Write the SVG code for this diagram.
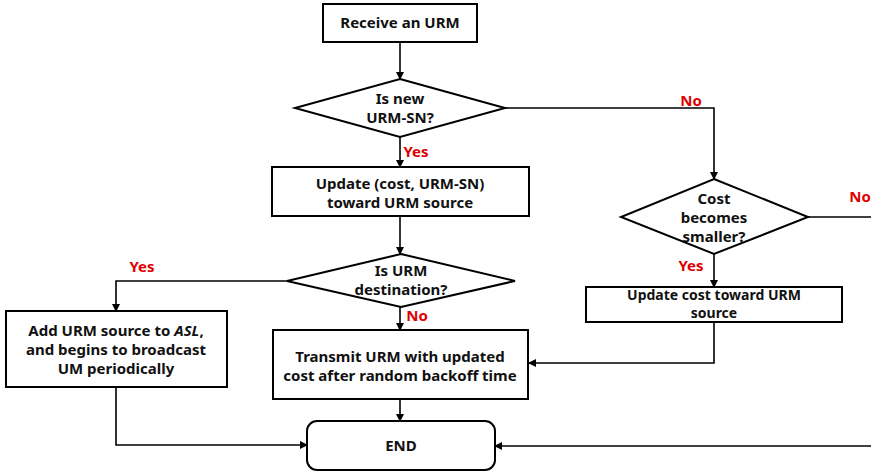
<svg xmlns="http://www.w3.org/2000/svg" width="871" height="473" viewBox="0 0 871 473">
<style>
.n{fill:#fff;stroke:#000;stroke-width:2}
.t{font-family:"Noto Sans","Liberation Sans",sans-serif;font-weight:bold;font-size:15px;fill:#111;text-anchor:middle}
.s{font-size:14px}
.l{font-family:"Noto Sans","Liberation Sans",sans-serif;font-weight:bold;font-size:15px;fill:#e00000;text-anchor:middle}
.c{fill:none;stroke:#000;stroke-width:1.6}
</style>
<defs>
<marker id="a" markerWidth="8" markerHeight="8" refX="7" refY="4" orient="auto" markerUnits="userSpaceOnUse">
<path d="M0,0 L8,4 L0,8 z" fill="#000"/>
</marker>
</defs>
<rect width="871" height="473" fill="#fff"/>
<g id="connectors">
<path class="c" d="M400,42 V79" marker-end="url(#a)"/>
<path class="c" d="M505,108 H714 V179" marker-end="url(#a)"/>
<path class="c" d="M400,137 V167" marker-end="url(#a)"/>
<path class="c" d="M400,216 V254" marker-end="url(#a)"/>
<path class="c" d="M287,281 H116 V311" marker-end="url(#a)"/>
<path class="c" d="M400,307 V330" marker-end="url(#a)"/>
<path class="c" d="M808,217 H871"/>
<path class="c" d="M714,254 V287" marker-end="url(#a)"/>
<path class="c" d="M714,322 V363 H529" marker-end="url(#a)"/>
<path class="c" d="M400,399 V421" marker-end="url(#a)"/>
<path class="c" d="M116,387 V445 H307" marker-end="url(#a)"/>
<path class="c" d="M871,446 H495" marker-end="url(#a)"/>
<text class="l" x="691" y="106">No</text>
<text class="l" x="860" y="202">No</text>
<text class="l" x="416" y="157">Yes</text>
<text class="l" x="691" y="271">Yes</text>
<text class="l" x="142" y="272">Yes</text>
<text class="l" x="417" y="321">No</text>
</g>
<g id="receive">
<rect class="n" x="323" y="4" width="154" height="38"/>
<text class="t" x="400" y="28">Receive an URM</text>
</g>
<g id="isnew">
<polygon class="n" points="400,79 505,108 400,137 295,108"/>
<text class="t" x="400" y="104">Is new</text>
<text class="t" x="400" y="123">URM-SN?</text>
</g>
<g id="update1">
<rect class="n" x="272" y="167" width="257" height="49"/>
<text class="t" x="400" y="189">Update (cost, URM-SN)</text>
<text class="t" x="400" y="208">toward URM source</text>
</g>
<g id="isdest">
<polygon class="n" points="401,254 515,281 401,307 287,281"/>
<text class="t" x="401" y="276">Is URM</text>
<text class="t" x="401" y="295">destination?</text>
</g>
<g id="addurm">
<rect class="n" x="6" y="311" width="221" height="76"/>
<text class="t" x="116" y="336">Add URM source to <tspan font-style="italic">ASL</tspan>,</text>
<text class="t" x="116" y="355">and begins to broadcast</text>
<text class="t" x="116" y="374">UM periodically</text>
</g>
<g id="transmit">
<rect class="n" x="273" y="330" width="255" height="69"/>
<text class="t" x="400" y="362">Transmit URM with updated</text>
<text class="t" x="400" y="381">cost after random backoff time</text>
</g>
<g id="costsmaller">
<polygon class="n" points="714,179 808,217 714,254 621,217"/>
<text class="t" x="714" y="204">Cost</text>
<text class="t" x="714" y="223">becomes</text>
<text class="t" x="714" y="242">smaller?</text>
</g>
<g id="update2">
<rect class="n" x="586" y="287" width="256" height="35"/>
<text class="t s" x="714" y="300">Update cost toward URM</text>
<text class="t s" x="714" y="318">source</text>
</g>
<g id="end">
<rect class="n" x="307" y="421" width="188" height="49" rx="10"/>
<text class="t" x="401" y="451">END</text>
</g>
</svg>
